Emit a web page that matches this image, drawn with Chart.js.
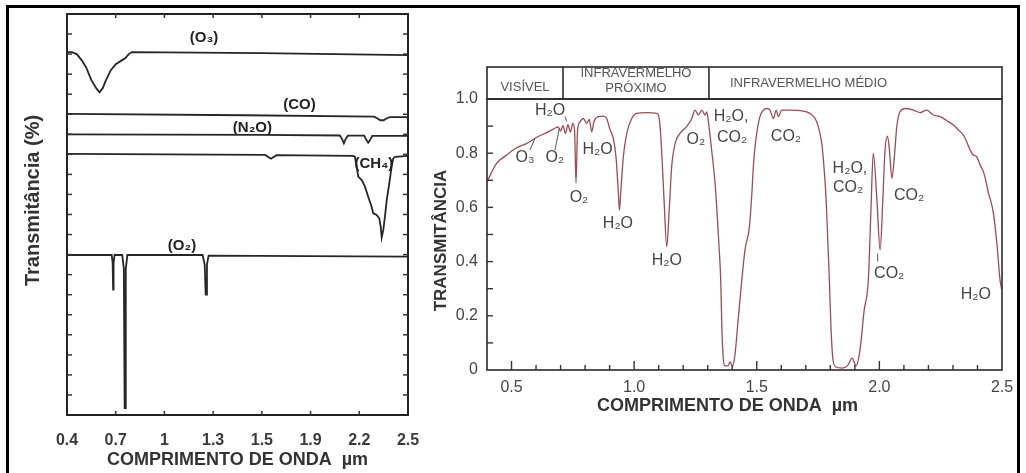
<!DOCTYPE html>
<html><head><meta charset="utf-8">
<script src="https://cdn.jsdelivr.net/npm/chart.js@4.4.0/dist/chart.umd.min.js"></script>
<style>
html,body{margin:0;padding:0;background:#fff;}
#wrap{position:relative;width:1026px;height:473px;overflow:hidden;background:#fff;}
#frame{position:absolute;left:6px;top:5px;width:1014px;height:490px;border:3px solid #000;box-sizing:border-box;}
#c1{position:absolute;left:0;top:0;}
#c2{position:absolute;left:420px;top:0;}
</style></head><body>
<div id="wrap"><div id="frame"></div>
<canvas id="c1" width="420" height="473"></canvas>
<canvas id="c2" width="606" height="473"></canvas></div>
<script>
// ---------- LEFT PANEL DATA (offset absorption traces) ----------
const leftTickValues = [0.4, 0.7, 1.0, 1.3, 1.6, 1.9, 2.2, 2.5];
const leftTickLabels = ['0.4', '0.7', '1', '1.3', '1.5', '1.9', '2.2', '2.5'];

const o3Wl  = [0.40,0.43,0.46,0.49,0.52,0.55,0.58,0.60,0.62,0.64,0.67,0.70,0.74,0.76,0.78,0.80,1.60,2.50];
const o3Val = [18.1,18.1,18.0,17.7,17.3,16.7,16.3,16.1,16.3,16.7,17.2,17.5,17.7,17.8,18.0,18.1,18.05,17.95];

const coWl  = [0.40,1.50,2.29,2.31,2.33,2.35,2.37,2.39,2.50];
const coVal = [15.02,14.95,14.88,14.80,14.70,14.70,14.80,14.86,14.86];

const n2oWl  = [0.40,1.60,2.08,2.095,2.105,2.115,2.13,2.23,2.245,2.255,2.265,2.28,2.50];
const n2oVal = [14.0,13.97,13.94,13.75,13.55,13.75,13.93,13.93,13.7,13.58,13.7,13.92,13.92];

const ch4Wl  = [0.40,1.62,1.656,1.69,2.16,2.173,2.184,2.194,2.215,2.235,2.255,2.276,2.286,2.307,2.323,2.332,2.338,2.348,2.358,2.369,2.385,2.399,2.409,2.42,2.50];
const ch4Val = [13.02,12.97,12.78,12.96,12.92,12.88,12.38,11.89,11.72,11.39,10.89,10.39,10.06,9.98,9.81,9.39,8.85,9.23,9.89,10.72,11.56,12.38,12.80,12.88,12.92];

const o2Wl  = [0.40,0.675,0.681,0.684,0.687,0.693,0.74,0.750,0.755,0.758,0.762,0.772,1.235,1.248,1.254,1.257,1.262,1.272,2.50];
const o2Val = [7.98,7.98,7.6,6.25,7.6,7.98,7.98,7.3,0.35,0.35,7.3,7.98,7.98,7.5,6.0,6.0,7.5,7.95,7.9];

const gasNames = ['(O₃)', '(CO)', '(N₂O)', '(CH₄)', '(O₂)'];
const gasLabelWl = [1.244, 1.832, 1.542, 2.29, 1.108];
const gasLabelVal = [18.83, 15.49, 14.31, 12.54, 8.45];

// ---------- RIGHT PANEL DATA (atmospheric transmittance) ----------
const rightTickValues = [0.5, 1.0, 1.5, 2.0, 2.5];
const rightTickLabels = ['0.5', '1.0', '1.5', '2.0', '2.5'];
const transTickValues = [0, 0.2, 0.4, 0.6, 0.8, 1.0];
const transTickLabels = ['0', '0.2', '0.4', '0.6', '0.8', '1.0'];

const atmWl = [0.40,0.44,0.48,0.521,0.562,0.603,0.643,0.677,0.69,0.70,0.71,0.72,0.73,0.74,0.75,0.757,0.763,0.769,0.779,0.793,0.807,0.817,0.827,0.836,0.854,0.874,0.888,0.902,0.915,0.926,0.935,0.94,0.946,0.956,0.97,0.99,1.01,1.051,1.092,1.103,1.112,1.122,1.133,1.143,1.153,1.167,1.187,1.214,1.235,1.248,1.262,1.276,1.289,1.296,1.305,1.316,1.33,1.339,1.347,1.353,1.358,1.364,1.37,1.383,1.391,1.40,1.411,1.424,1.439,1.452,1.47,1.48,1.486,1.493,1.502,1.513,1.527,1.541,1.554,1.568,1.579,1.588,1.602,1.636,1.677,1.717,1.738,1.751,1.765,1.774,1.783,1.789,1.796,1.803,1.811,1.823,1.848,1.872,1.889,1.905,1.921,1.938,1.955,1.966,1.975,1.99,2.003,2.014,2.023,2.033,2.041,2.051,2.06,2.071,2.084,2.105,2.139,2.166,2.193,2.22,2.248,2.275,2.302,2.322,2.343,2.356,2.37,2.383,2.397,2.411,2.424,2.435,2.445,2.451,2.465,2.479,2.492,2.498];
const atmT  = [0.695,0.763,0.793,0.82,0.836,0.859,0.876,0.892,0.897,0.882,0.902,0.872,0.905,0.878,0.91,0.885,0.69,0.88,0.916,0.928,0.91,0.925,0.879,0.916,0.935,0.937,0.928,0.886,0.855,0.787,0.664,0.59,0.664,0.787,0.873,0.928,0.947,0.95,0.947,0.922,0.812,0.627,0.455,0.59,0.75,0.836,0.873,0.898,0.928,0.959,0.941,0.959,0.941,0.952,0.90,0.812,0.689,0.566,0.443,0.332,0.148,0.037,0.015,0.015,0.03,0.015,0.055,0.185,0.332,0.443,0.529,0.652,0.75,0.824,0.886,0.935,0.959,0.965,0.959,0.928,0.959,0.935,0.959,0.959,0.957,0.947,0.928,0.898,0.836,0.75,0.627,0.492,0.332,0.148,0.037,0.011,0.007,0.018,0.044,0.015,0.074,0.221,0.332,0.60,0.80,0.627,0.443,0.627,0.812,0.863,0.812,0.707,0.775,0.898,0.953,0.965,0.959,0.95,0.959,0.941,0.935,0.92,0.904,0.886,0.867,0.842,0.812,0.793,0.787,0.756,0.732,0.695,0.652,0.634,0.578,0.468,0.332,0.30];

const bandEdges = [0.4, 0.71, 1.305, 2.5];
const bandNames = [['VISÍVEL'], ['INFRAVERMELHO', 'PRÓXIMO'], ['INFRAVERMELHO MÉDIO']];

const absText = ['O₃','O₂','H₂O','O₂','H₂O','H₂O','H₂O','O₂','H₂O,','CO₂','CO₂','H₂O,','CO₂','CO₂','CO₂','H₂O'];
const absWl   = [0.555,0.677,0.657,0.775,0.851,0.934,1.133,1.252,1.395,1.399,1.619,1.88,1.872,2.121,2.04,2.393];
const absT    = [0.782,0.782,0.959,0.635,0.815,0.539,0.403,0.852,0.935,0.856,0.861,0.745,0.672,0.642,0.354,0.28];
const leadWlA = [0.575,0.677,0.718,1.993];
const leadTA  = [0.812,0.812,0.935,0.43];
const leadWlB = [0.596,0.695,0.725,1.993];
const leadTB  = [0.855,0.892,0.917,0.40];

// ---------- helpers ----------
const FF = "'Liberation Sans', Arial, Helvetica, sans-serif";
const pts = (xs, ys) => xs.map((x, i) => ({x, y: ys[i]}));

function txt(ctx, s, x, y, font, color, align, rot) {
  ctx.save();
  ctx.font = font; ctx.fillStyle = color;
  ctx.textAlign = align || 'center'; ctx.textBaseline = 'middle';
  ctx.translate(x, y);
  if (rot) ctx.rotate(rot);
  ctx.fillText(s, 0, 0);
  ctx.restore();
}
function line(ctx, x1, y1, x2, y2, w, c) {
  ctx.save(); ctx.strokeStyle = c; ctx.lineWidth = w;
  ctx.beginPath(); ctx.moveTo(x1, y1); ctx.lineTo(x2, y2); ctx.stroke(); ctx.restore();
}
function noPad(s) { s.paddingLeft = 0; s.paddingRight = 0; s.paddingTop = 0; s.paddingBottom = 0; }

// ---------- LEFT CHART ----------
const leftDecor = {
  id: 'leftDecor',
  afterDraw(chart) {
    const {ctx, chartArea: a, scales: {x, y}} = chart;
    ctx.save();
    ctx.strokeStyle = '#222'; ctx.lineWidth = 2;
    ctx.strokeRect(a.left, a.top, a.right - a.left, a.bottom - a.top);
    for (let k = 1; k < 20; k++) {
      const py = y.getPixelForValue(k);
      line(ctx, a.left, py, a.left + 5, py, 1.5, '#333');
      line(ctx, a.right - 5, py, a.right, py, 1.5, '#333');
    }
    leftTickValues.slice(1, -1).forEach(v => {
      const px = x.getPixelForValue(v);
      line(ctx, px, a.bottom, px, a.bottom - 4, 1.5, '#333');
      line(ctx, px, a.top, px, a.top + 4, 1.5, '#333');
    });
    gasNames.forEach((g, i) => {
      txt(ctx, g, x.getPixelForValue(gasLabelWl[i]), y.getPixelForValue(gasLabelVal[i]), 'bold 15px ' + FF, '#222');
    });
    txt(ctx, 'Transmitância (%)', 33, (a.top + a.bottom) / 2 - 14, 'bold 20px ' + FF, '#333', 'center', -Math.PI / 2);
    txt(ctx, 'COMPRIMENTO DE ONDA  µm', (a.left + a.right) / 2, 460, 'bold 18px ' + FF, '#333');
    ctx.restore();
  }
};

const leftDs = (wl, v) => ({data: pts(wl, v), borderColor: '#262626', borderWidth: 1.8, pointRadius: 0, tension: 0});

new Chart(document.getElementById('c1'), {
  type: 'line',
  data: {datasets: [leftDs(o3Wl, o3Val), leftDs(coWl, coVal), leftDs(n2oWl, n2oVal), leftDs(ch4Wl, ch4Val), leftDs(o2Wl, o2Val)]},
  options: {
    responsive: false, animation: false, devicePixelRatio: 1,
    layout: {padding: {left: 0, top: 14, right: 12, bottom: 0}},
    plugins: {legend: {display: false}, tooltip: {enabled: false}},
    scales: {
      x: {type: 'linear', min: 0.4, max: 2.5,
        afterFit(s) { s.height = 58; noPad(s); },
        afterBuildTicks(s) { s.ticks = leftTickValues.map(v => ({value: v})); },
        ticks: {callback: (v, i) => leftTickLabels[i], autoSkip: false, maxRotation: 0,
          font: {family: FF, size: 16, weight: 'bold'}, color: '#3a3a3a', padding: 16},
        grid: {display: false, drawTicks: false}, border: {display: false}},
      y: {type: 'linear', min: 0, max: 20,
        afterFit(s) { s.width = 67; noPad(s); },
        ticks: {display: false}, grid: {display: false, drawTicks: false}, border: {display: false}}
    }
  },
  plugins: [leftDecor]
});

// ---------- RIGHT CHART ----------
const rightDecor = {
  id: 'rightDecor',
  afterDraw(chart) {
    const {ctx, chartArea: a, scales: {x, y}} = chart;
    ctx.save();
    const hTop = a.top - 32;
    ctx.strokeStyle = '#2a2a2a'; ctx.lineWidth = 1.6;
    ctx.strokeRect(a.left, a.top, a.right - a.left, a.bottom - a.top);
    ctx.strokeRect(a.left, hTop, a.right - a.left, a.top - hTop);
    [bandEdges[1], bandEdges[2]].forEach(v => {
      const px = x.getPixelForValue(v);
      line(ctx, px, hTop, px, a.top, 1.6, '#2a2a2a');
    });
    const hf = '13px ' + FF, hc = '#555';
    const b0 = (x.getPixelForValue(bandEdges[0]) + x.getPixelForValue(bandEdges[1])) / 2;
    const b1 = (x.getPixelForValue(bandEdges[1]) + x.getPixelForValue(bandEdges[2])) / 2;
    txt(ctx, bandNames[0][0], b0, a.top - 12, hf, hc);
    txt(ctx, bandNames[1][0], b1, a.top - 26, hf, hc);
    txt(ctx, bandNames[1][1], b1, a.top - 11, hf, hc);
    txt(ctx, bandNames[2][0], x.getPixelForValue(bandEdges[2]) + 21, a.top - 16, hf, hc, 'left');
    // ticks
    for (let k = 1; k < 10; k++) {
      const py = y.getPixelForValue(k / 10);
      line(ctx, a.left, py, a.left + 6, py, 1.4, '#333');
    }
    for (let k = 5; k < 25; k++) {
      const px = x.getPixelForValue(k / 10);
      const len = k % 5 === 0 ? 9 : 5;
      line(ctx, px, a.bottom, px, a.bottom - len, 1.4, '#333');
    }
    // absorber labels
    absText.forEach((s, i) => {
      txt(ctx, s, x.getPixelForValue(absWl[i]), y.getPixelForValue(absT[i]), '16px ' + FF, '#454545');
    });
    leadWlA.forEach((w, i) => {
      line(ctx, x.getPixelForValue(w), y.getPixelForValue(leadTA[i]),
        x.getPixelForValue(leadWlB[i]), y.getPixelForValue(leadTB[i]), 1, '#555');
    });
    txt(ctx, 'TRANSMITÂNCIA', 21, (a.top + a.bottom) / 2 + 6, 'bold 17px ' + FF, '#333', 'center', -Math.PI / 2);
    txt(ctx, 'COMPRIMENTO DE ONDA  µm', (a.left + a.right) / 2 - 17, 406, 'bold 18px ' + FF, '#333');
    ctx.restore();
  }
};

new Chart(document.getElementById('c2'), {
  type: 'line',
  data: {datasets: [{data: pts(atmWl, atmT), borderColor: '#9a4d58', borderWidth: 1.3, pointRadius: 0,
    cubicInterpolationMode: 'monotone'}]},
  options: {
    responsive: false, animation: false, devicePixelRatio: 1,
    layout: {padding: {left: 0, top: 99, right: 24, bottom: 0}},
    plugins: {legend: {display: false}, tooltip: {enabled: false}},
    scales: {
      x: {type: 'linear', min: 0.4, max: 2.5,
        afterFit(s) { s.height = 103; noPad(s); },
        afterBuildTicks(s) { s.ticks = rightTickValues.map(v => ({value: v})); },
        ticks: {callback: (v, i) => rightTickLabels[i], autoSkip: false, maxRotation: 0,
          font: {family: FF, size: 16}, color: '#454545', padding: 8},
        grid: {display: false, drawTicks: false}, border: {display: false}},
      y: {type: 'linear', min: 0, max: 1.0,
        afterFit(s) { s.width = 67; noPad(s); },
        afterBuildTicks(s) { s.ticks = transTickValues.map(v => ({value: v})); },
        ticks: {callback: (v, i) => transTickLabels[i], autoSkip: false,
          font: {family: FF, size: 16}, color: '#454545', padding: 9},
        grid: {display: false, drawTicks: false}, border: {display: false}}
    }
  },
  plugins: [rightDecor]
});
</script>
</body></html>
